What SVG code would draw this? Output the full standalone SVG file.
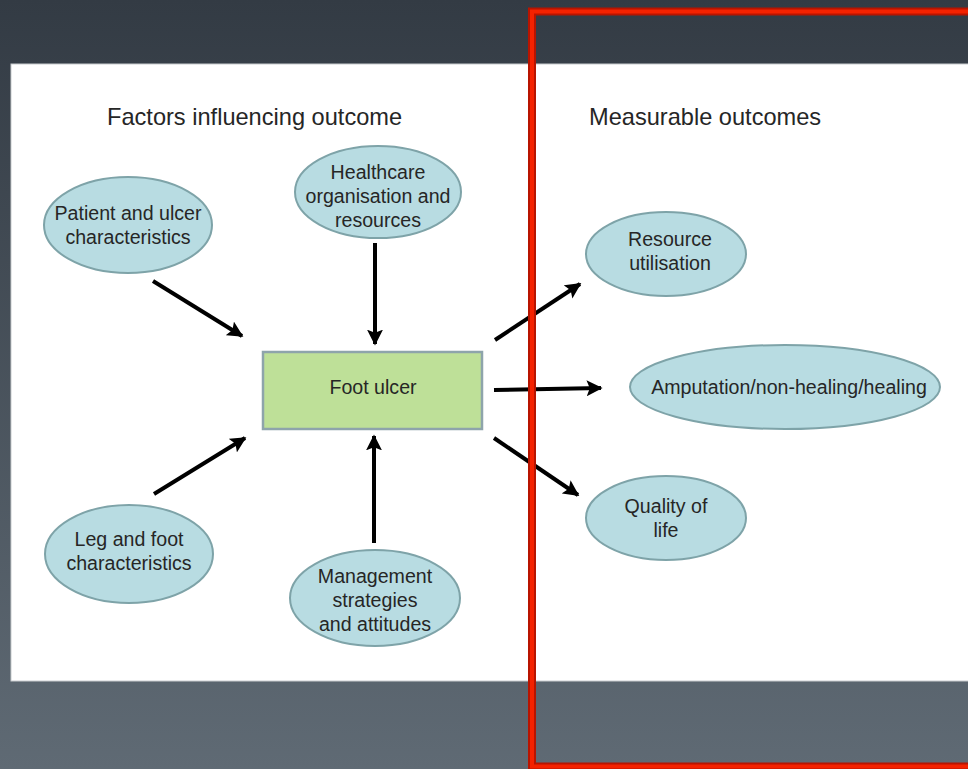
<svg xmlns="http://www.w3.org/2000/svg" width="968" height="769" viewBox="0 0 968 769">
  <defs>
    <linearGradient id="bg" x1="0" y1="0" x2="0" y2="1">
      <stop offset="0" stop-color="#333b44"/>
      <stop offset="1" stop-color="#5f6a74"/>
    </linearGradient>
    <marker id="arrow" viewBox="0 0 10 10" refX="9" refY="5" markerWidth="4" markerHeight="4" orient="auto" markerUnits="strokeWidth">
      <path d="M0,0 L10,5 L0,10 L2,5 Z" fill="#000"/>
    </marker>
    <style>
      .title { font-family: "Liberation Sans", Arial, sans-serif; font-size: 23.6px; fill: #262626; }
      .lbl { font-family: "Liberation Sans", Arial, sans-serif; font-size: 19.6px; fill: #262626; text-anchor: middle; }
      .oval { fill: #b8dce2; stroke: #7ea3a8; stroke-width: 2; }
      .box { fill: #bee098; stroke: #8ea4ab; stroke-width: 2.5; }
      .conn { stroke: #000; stroke-width: 4; fill: none; marker-end: url(#arrow); }
    </style>
  </defs>

  <!-- backdrop and white panel -->
  <rect x="0" y="0" width="968" height="769" fill="url(#bg)"/>
  <rect x="11" y="64" width="962" height="617" fill="#fff" stroke="#c8cbce" stroke-width="1"/>

  <!-- section titles -->
  <text class="title" x="107" y="125">Factors influencing outcome</text>
  <text class="title" x="589" y="125">Measurable outcomes</text>

  <!-- connectors -->
  <g id="connectors">
    <line class="conn" x1="153" y1="281" x2="242" y2="336"/>
    <line class="conn" x1="375" y1="243" x2="375" y2="344"/>
    <line class="conn" x1="154" y1="494" x2="245" y2="438"/>
    <line class="conn" x1="374" y1="543" x2="374" y2="436"/>
    <line class="conn" x1="495" y1="340" x2="580" y2="284"/>
    <line class="conn" x1="494" y1="390" x2="601" y2="388"/>
    <line class="conn" x1="494" y1="438" x2="578" y2="495"/>
  </g>

  <!-- nodes -->
  <g id="foot-ulcer">
    <rect class="box" x="263" y="352" width="219" height="77"/>
    <text class="lbl" x="373" y="394">Foot ulcer</text>
  </g>
  <g id="patient-ulcer">
    <ellipse class="oval" cx="128" cy="225" rx="84" ry="48"/>
    <text class="lbl" x="128" y="220">Patient and ulcer</text>
    <text class="lbl" x="128" y="244">characteristics</text>
  </g>
  <g id="healthcare">
    <ellipse class="oval" cx="378" cy="192" rx="83" ry="46"/>
    <text class="lbl" x="378" y="179">Healthcare</text>
    <text class="lbl" x="378" y="203">organisation and</text>
    <text class="lbl" x="378" y="227">resources</text>
  </g>
  <g id="leg-foot">
    <ellipse class="oval" cx="129" cy="554" rx="84" ry="49"/>
    <text class="lbl" x="129" y="546">Leg and foot</text>
    <text class="lbl" x="129" y="570">characteristics</text>
  </g>
  <g id="management">
    <ellipse class="oval" cx="375" cy="598" rx="85" ry="48"/>
    <text class="lbl" x="375" y="583">Management</text>
    <text class="lbl" x="375" y="607">strategies</text>
    <text class="lbl" x="375" y="631">and attitudes</text>
  </g>
  <g id="resource-utilisation">
    <ellipse class="oval" cx="666" cy="254" rx="80" ry="42"/>
    <text class="lbl" x="670" y="246">Resource</text>
    <text class="lbl" x="670" y="270">utilisation</text>
  </g>
  <g id="amputation">
    <ellipse class="oval" cx="785" cy="387" rx="155" ry="42"/>
    <text class="lbl" x="789" y="394">Amputation/non-healing/healing</text>
  </g>
  <g id="quality-of-life">
    <ellipse class="oval" cx="666" cy="518" rx="80" ry="42"/>
    <text class="lbl" x="666" y="513">Quality of</text>
    <text class="lbl" x="666" y="537">life</text>
  </g>

  <!-- highlight frame -->
  <rect x="532" y="11.5" width="460" height="755" fill="none" stroke="#b81400" stroke-width="8"/>
  <rect x="532" y="11.5" width="460" height="755" fill="none" stroke="#f42200" stroke-width="4"/>
</svg>
